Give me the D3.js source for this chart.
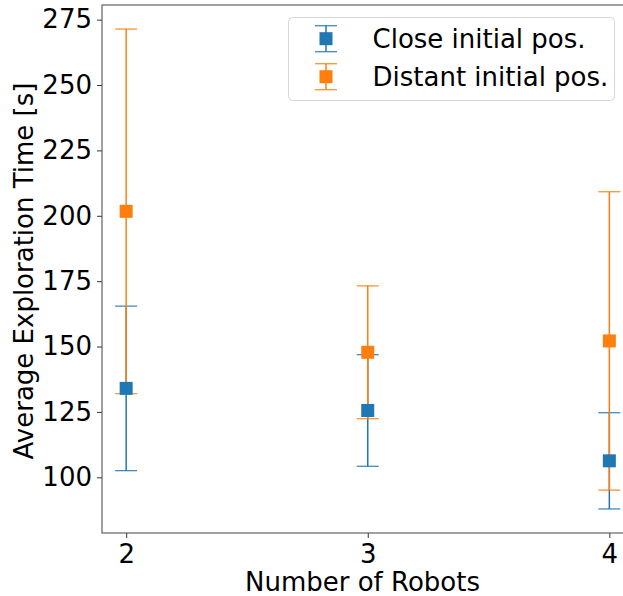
<!DOCTYPE html>
<html>
<head>
<meta charset="utf-8">
<script src="https://cdn.jsdelivr.net/npm/d3@7"></script>
<style>
    html, body { margin: 0; padding: 0; background: #fff; }
    svg { display: block; font-family: "DejaVu Sans", sans-serif; }
</style>
</head>
<body>
<div id="dataChart"></div>
<script>
const robots = [2, 3, 4]
const closeMean = [134, 125.55, 106.3]
const closeErr = [31.45, 21.35, 18.4]
const distantMean = [201.7, 147.8, 152.15]
const distantErr = [69.7, 25.4, 57.05]
const yTicks = [100, 125, 150, 175, 200, 225, 250, 275]
const seriesNames = ['Close initial pos.', 'Distant initial pos.']

document.addEventListener('DOMContentLoaded', () => {
    draw()
});

function draw() {
    const viewBoxWidth = 623
    const viewBoxHeight = 596
    const plotLeft = 102
    const plotTop = 5
    const plotBottom = 533
    const fontSize = 26
    const capHalf = 11
    const markerSize = 13
    const colours = ['#1f77b4', '#ff7f0e']

    const svg = d3.select('#dataChart')
        .append('svg')
        .attr('width', viewBoxWidth)
        .attr('height', viewBoxHeight)
        .attr('viewBox', [0, 0, viewBoxWidth, viewBoxHeight])

    const series = [
        { name: seriesNames[0], mean: closeMean, err: closeErr, colour: colours[0] },
        { name: seriesNames[1], mean: distantMean, err: distantErr, colour: colours[1] }
    ]

    // Scales
    const xScale = d3.scaleLinear()
        .domain([1.9, 4.1])
        .range([plotLeft, 633.5])
    const yScale = d3.scaleLinear()
        .domain([78.7, 280.6])
        .range([plotBottom, plotTop])

    // Error bars first (matplotlib draws them below the markers)
    const bars = svg.append('g').attr('id', 'chart-errorbars')
    series.forEach(s => {
        const g = bars.append('g').attr('stroke', s.colour)
        robots.forEach((r, i) => {
            const x = xScale(r)
            const top = yScale(s.mean[i] + s.err[i])
            const bottom = yScale(s.mean[i] - s.err[i])
            g.append('line')
                .attr('x1', x).attr('x2', x)
                .attr('y1', top).attr('y2', bottom)
                .attr('stroke-width', 1.5)
            ;[top, bottom].forEach(y => {
                g.append('line')
                    .attr('x1', x - capHalf).attr('x2', x + capHalf)
                    .attr('y1', y).attr('y2', y)
                    .attr('stroke-width', 1.3)
                    .attr('stroke-opacity', 0.85)
            })
        })
    })

    // Markers
    const marks = svg.append('g').attr('id', 'chart-markers')
    series.forEach(s => {
        marks.append('g')
            .selectAll('rect')
            .data(robots)
            .enter()
            .append('rect')
            .attr('x', d => xScale(d) - markerSize / 2)
            .attr('y', (d, i) => yScale(s.mean[i]) - markerSize / 2)
            .attr('width', markerSize)
            .attr('height', markerSize)
            .attr('fill', s.colour)
    })

    // Axes
    const xAxis = svg.append('g')
        .attr('transform', `translate(0, ${plotBottom})`)
        .call(d3.axisBottom(xScale).tickValues(robots).tickFormat(d3.format('d')).tickSize(5).tickPadding(7))
    const yAxis = svg.append('g')
        .attr('transform', `translate(${plotLeft}, 0)`)
        .call(d3.axisLeft(yScale).tickValues(yTicks).tickSize(5).tickPadding(5))
    ;[xAxis, yAxis].forEach(a => {
        a.select('.domain').remove()
        a.selectAll('.tick line').attr('stroke', '#333')
        a.selectAll('.tick text')
            .attr('fill', '#000')
            .attr('font-size', fontSize)
            .attr('font-family', '"DejaVu Sans", sans-serif')
    })

    // Spines
    svg.append('rect')
        .attr('x', plotLeft)
        .attr('y', plotTop)
        .attr('width', 640 - plotLeft)
        .attr('height', plotBottom - plotTop)
        .attr('fill', 'none')
        .attr('stroke', '#444')
        .attr('stroke-width', 1)

    // Labels
    svg.append('text')
        .attr('x', 362.5)
        .attr('y', 591)
        .attr('text-anchor', 'middle')
        .attr('font-size', fontSize)
        .text('Number of Robots')
    svg.append('text')
        .attr('transform', `translate(33, ${(plotTop + plotBottom) / 2 + 2}) rotate(-90)`)
        .attr('text-anchor', 'middle')
        .attr('font-size', fontSize)
        .text('Average Exploration Time [s]')

    // Legend
    const legend = svg.append('g').attr('id', 'chart-legend')
    legend.append('rect')
        .attr('x', 288.5)
        .attr('y', 17.5)
        .attr('width', 326)
        .attr('height', 83)
        .attr('rx', 4)
        .attr('fill', 'rgba(255,255,255,0.8)')
        .attr('stroke', '#d6d6d6')
        .attr('stroke-width', 1)
    const rowY = [38.7, 76.7]
    const legendMarkX = 326
    series.forEach((s, i) => {
        const row = legend.append('g').attr('transform', `translate(0, ${rowY[i]})`)
        row.append('line')
            .attr('x1', legendMarkX).attr('x2', legendMarkX)
            .attr('y1', -13).attr('y2', 13)
            .attr('stroke', s.colour).attr('stroke-width', 1.5)
        ;[-13, 13].forEach(y => {
            row.append('line')
                .attr('x1', legendMarkX - capHalf).attr('x2', legendMarkX + capHalf)
                .attr('y1', y).attr('y2', y)
                .attr('stroke', s.colour).attr('stroke-width', 1.3).attr('stroke-opacity', 0.85)
        })
        row.append('rect')
            .attr('x', legendMarkX - markerSize / 2)
            .attr('y', -markerSize / 2)
            .attr('width', markerSize)
            .attr('height', markerSize)
            .attr('fill', s.colour)
        row.append('text')
            .attr('x', 372.5)
            .attr('y', 0)
            .attr('dy', '0.35em')
            .attr('font-size', fontSize)
            .text(s.name)
    })
}
</script>
</body>
</html>
